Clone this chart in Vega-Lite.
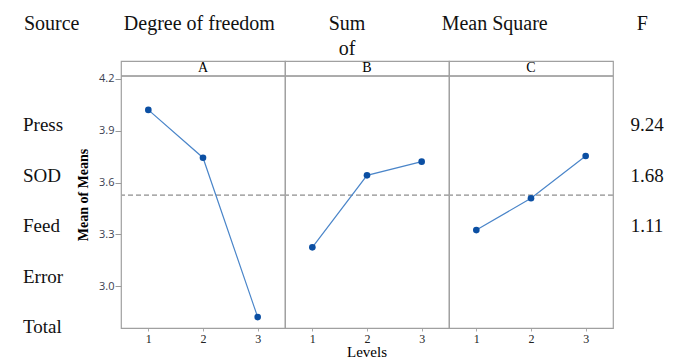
{
  "$schema": "https://vega.github.io/schema/vega-lite/v6.json",
  "padding": 0,
  "background": "white",
  "datasets": {
    "effects": [
      {"factor": "A", "level": 1, "mean": 4.021},
      {"factor": "A", "level": 2, "mean": 3.744},
      {"factor": "A", "level": 3, "mean": 2.821},
      {"factor": "B", "level": 1, "mean": 3.225},
      {"factor": "B", "level": 2, "mean": 3.642},
      {"factor": "B", "level": 3, "mean": 3.721},
      {"factor": "C", "level": 1, "mean": 3.325},
      {"factor": "C", "level": 2, "mean": 3.509},
      {"factor": "C", "level": 3, "mean": 3.754}
    ],
    "header": [
      {"col": "Source", "label": "Source"},
      {"col": "Degree of freedom", "label": "Degree of freedom"},
      {"col": "Sum of", "label": ["Sum", "of"]},
      {"col": "Mean Square", "label": "Mean Square"},
      {"col": "F", "label": "F"}
    ],
    "anova": [
      {"source": "Press", "F": "9.24"},
      {"source": "SOD", "F": "1.68"},
      {"source": "Feed", "F": "1.11"},
      {"source": "Error", "F": ""},
      {"source": "Total", "F": ""}
    ]
  },
  "bounds": "flush",
  "spacing": 15,
  "vconcat": [
    {
      "data": {"name": "header"},
      "width": 694,
      "height": 46,
      "view": {"stroke": null},
      "mark": {"type": "text", "font": "Liberation Serif", "fontSize": 20, "color": "#111", "baseline": "alphabetic", "dy": 7, "lineHeight": 25},
      "encoding": {
        "x": {"field": "col", "type": "nominal", "sort": null, "scale": {"type": "point", "padding": 0.35}, "axis": null},
        "text": {"field": "label"}
      }
    },
    {
      "spacing": 12,
      "hconcat": [
        {
          "data": {"name": "anova"},
          "width": 46,
          "height": 267,
          "view": {"stroke": null},
          "mark": {"type": "text", "font": "Liberation Serif", "fontSize": 19, "color": "#111", "align": "left", "baseline": "middle"},
          "encoding": {
            "y": {"field": "source", "type": "nominal", "sort": null, "scale": {"type": "point", "padding": 0.644, "align": 0.985}, "axis": null},
            "text": {"field": "source"}
          }
        },
        {
          "data": {"name": "effects"},
          "bounds": "flush",
          "spacing": 0,
          "facet": {"column": {"field": "factor", "type": "nominal", "header": {"labels": false, "title": "Levels", "titleOrient": "bottom", "titleFont": "Liberation Serif", "titleFontSize": 15, "titleFontWeight": "normal", "titleColor": "#000", "titlePadding": -9}}},
          "spec": {
            "width": 164,
            "height": 267,
            "view": {"stroke": "#a0a0a0", "strokeWidth": 1.2},
            "encoding": {
              "x": {"field": "level", "type": "quantitative", "scale": {"domain": [0.5, 3.5], "nice": false, "zero": false},
                "axis": {"values": [1, 2, 3], "title": null, "grid": false, "domain": false, "tickSize": 3, "tickColor": "#aaa", "labelFont": "Liberation Serif", "labelFontSize": 12, "labelColor": "#222", "labelPadding": 2}},
              "y": {"field": "mean", "type": "quantitative", "scale": {"domain": [2.758, 4.304], "nice": false, "zero": false},
                "axis": {"values": [3.0, 3.3, 3.6, 3.9, 4.2], "format": ".1f", "title": "Mean of Means", "titleFont": "Liberation Serif", "titleFontSize": 14, "titleFontWeight": "bold", "titleColor": "#000", "titlePadding": 8, "grid": false, "domain": false, "tickSize": 6, "tickColor": "#999", "labelFont": "Open Sans", "labelFontSize": 11, "labelColor": "#3a4050", "labelPadding": 1}}
            },
            "layer": [
              {"mark": {"type": "rule", "color": "#a8a8a8", "strokeDash": [5, 3], "strokeWidth": 1}, "encoding": {"x": null, "y": {"datum": 3.527}}},
              {"mark": {"type": "rule", "color": "#a0a0a0", "strokeWidth": 1}, "encoding": {"x": null, "y": {"datum": 4.217}}},
              {"transform": [{"filter": "datum.level == 2"}], "mark": {"type": "text", "font": "Liberation Serif", "fontSize": 14, "color": "#000", "baseline": "middle"}, "encoding": {"y": {"datum": 4.262}, "text": {"field": "factor"}}},
              {"mark": {"type": "line", "color": "#4a85c9", "strokeWidth": 1.2}},
              {"mark": {"type": "point", "filled": true, "color": "#0b4fa3", "size": 44, "opacity": 1}}
            ]
          }
        },
        {
          "data": {"name": "anova"},
          "width": 40,
          "height": 267,
          "view": {"stroke": null},
          "mark": {"type": "text", "font": "Liberation Serif", "fontSize": 19, "color": "#111", "baseline": "middle"},
          "encoding": {
            "y": {"field": "source", "type": "nominal", "sort": null, "scale": {"type": "point", "padding": 0.644, "align": 0.985}, "axis": null},
            "text": {"field": "F"}
          }
        }
      ]
    }
  ],
  "config": {"view": {"stroke": null}}
}
